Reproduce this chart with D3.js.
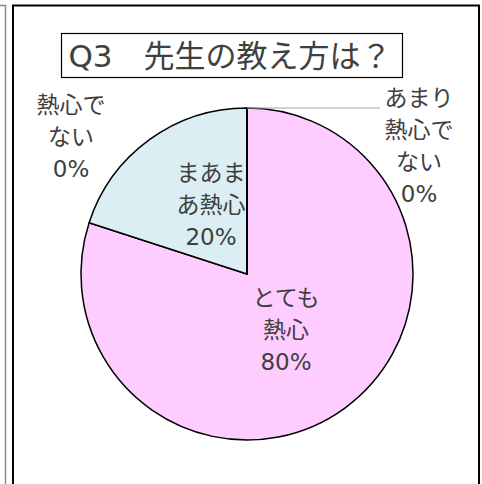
<!DOCTYPE html>
<html>
<head>
<meta charset="utf-8">
<script src="https://cdn.jsdelivr.net/npm/d3@7"></script>
<style>
  body { margin: 0; background: #fff; }
  svg { display: block; }
  text { font-family: "DejaVu Sans", "Noto Sans CJK JP", sans-serif; fill: #404040; }
</style>
</head>
<body>
<div id="chart"></div>
<script>
var width = 482;
var height = 484;

// data
var title = "Q3\u3000先生の教え方は？";
var categories = ["とても熱心", "まあまあ熱心", "あまり熱心でない", "熱心でない"];
var values = [80, 20, 0, 0];
var colors = ["#ffccff", "#daeef3", "#c0c0c0", "#c0c0c0"];
// how each label wraps
var labelLines = [
  ["とても", "熱心", "80%"],
  ["まあま", "あ熱心", "20%"],
  ["あまり", "熱心で", "ない", "0%"],
  ["熱心で", "ない", "0%"]
];

var cx = 247, cy = 274, r = 166;
var lineH = 32;

var svg = d3.select("#chart").append("svg")
  .attr("width", width)
  .attr("height", height);

// outer frames
svg.append("path")
  .attr("d", "M0,5.5H5.5V" + height)
  .attr("fill", "none")
  .attr("stroke", "#8c8c8c")
  .attr("stroke-width", 1.5);
svg.append("path")
  .attr("d", "M13," + height + "V5.5H479V" + height)
  .attr("fill", "none")
  .attr("stroke", "#000")
  .attr("stroke-width", 2);

// title box
svg.append("rect")
  .attr("x", 61.5).attr("y", 33.5)
  .attr("width", 341).attr("height", 44)
  .attr("fill", "#fff")
  .attr("stroke", "#000")
  .attr("stroke-width", 1.2);
svg.append("text")
  .attr("x", 230).attr("y", 67)
  .attr("text-anchor", "middle")
  .attr("font-size", 31)
  .text(title);

var pie = d3.pie().sort(null).value(function(d) { return d; });
var arcs = pie(values);
var arc = d3.arc().innerRadius(0).outerRadius(r);

var g = svg.append("g").attr("transform", "translate(" + cx + "," + cy + ")");

g.selectAll("path.slice")
  .data(arcs)
  .enter()
  .append("path")
  .attr("class", "slice")
  .attr("d", arc)
  .attr("fill", function(d, i) { return colors[i]; })
  .attr("stroke", "#000")
  .attr("stroke-width", 1.5)
  .attr("stroke-linejoin", "round");

// leader line for the zero slice at the top
var edge = d3.arc().innerRadius(r).outerRadius(r);
var p0 = edge.centroid(arcs[2]);
g.append("line")
  .attr("x1", p0[0]).attr("y1", p0[1])
  .attr("x2", p0[0] + 133).attr("y2", p0[1])
  .attr("stroke", "#a6a6a6")
  .attr("stroke-width", 1.2);

// label anchors (centre of first line), relative to pie centre
var labelPos = [
  [39, 24],
  [-36, -101],
  [172, -176],
  [-176, -169]
];

var labels = g.selectAll("text.lbl")
  .data(arcs)
  .enter()
  .append("text")
  .attr("class", "lbl")
  .attr("text-anchor", "middle")
  .attr("font-size", 23)
  .attr("transform", function(d, i) {
    return "translate(" + labelPos[i][0] + "," + labelPos[i][1] + ")";
  });

labels.selectAll("tspan")
  .data(function(d, i) { return labelLines[i]; })
  .enter()
  .append("tspan")
  .attr("x", 0)
  .attr("y", function(d, j) { return j * lineH + 8; })
  .text(function(d) { return d; });
</script>
</body>
</html>
